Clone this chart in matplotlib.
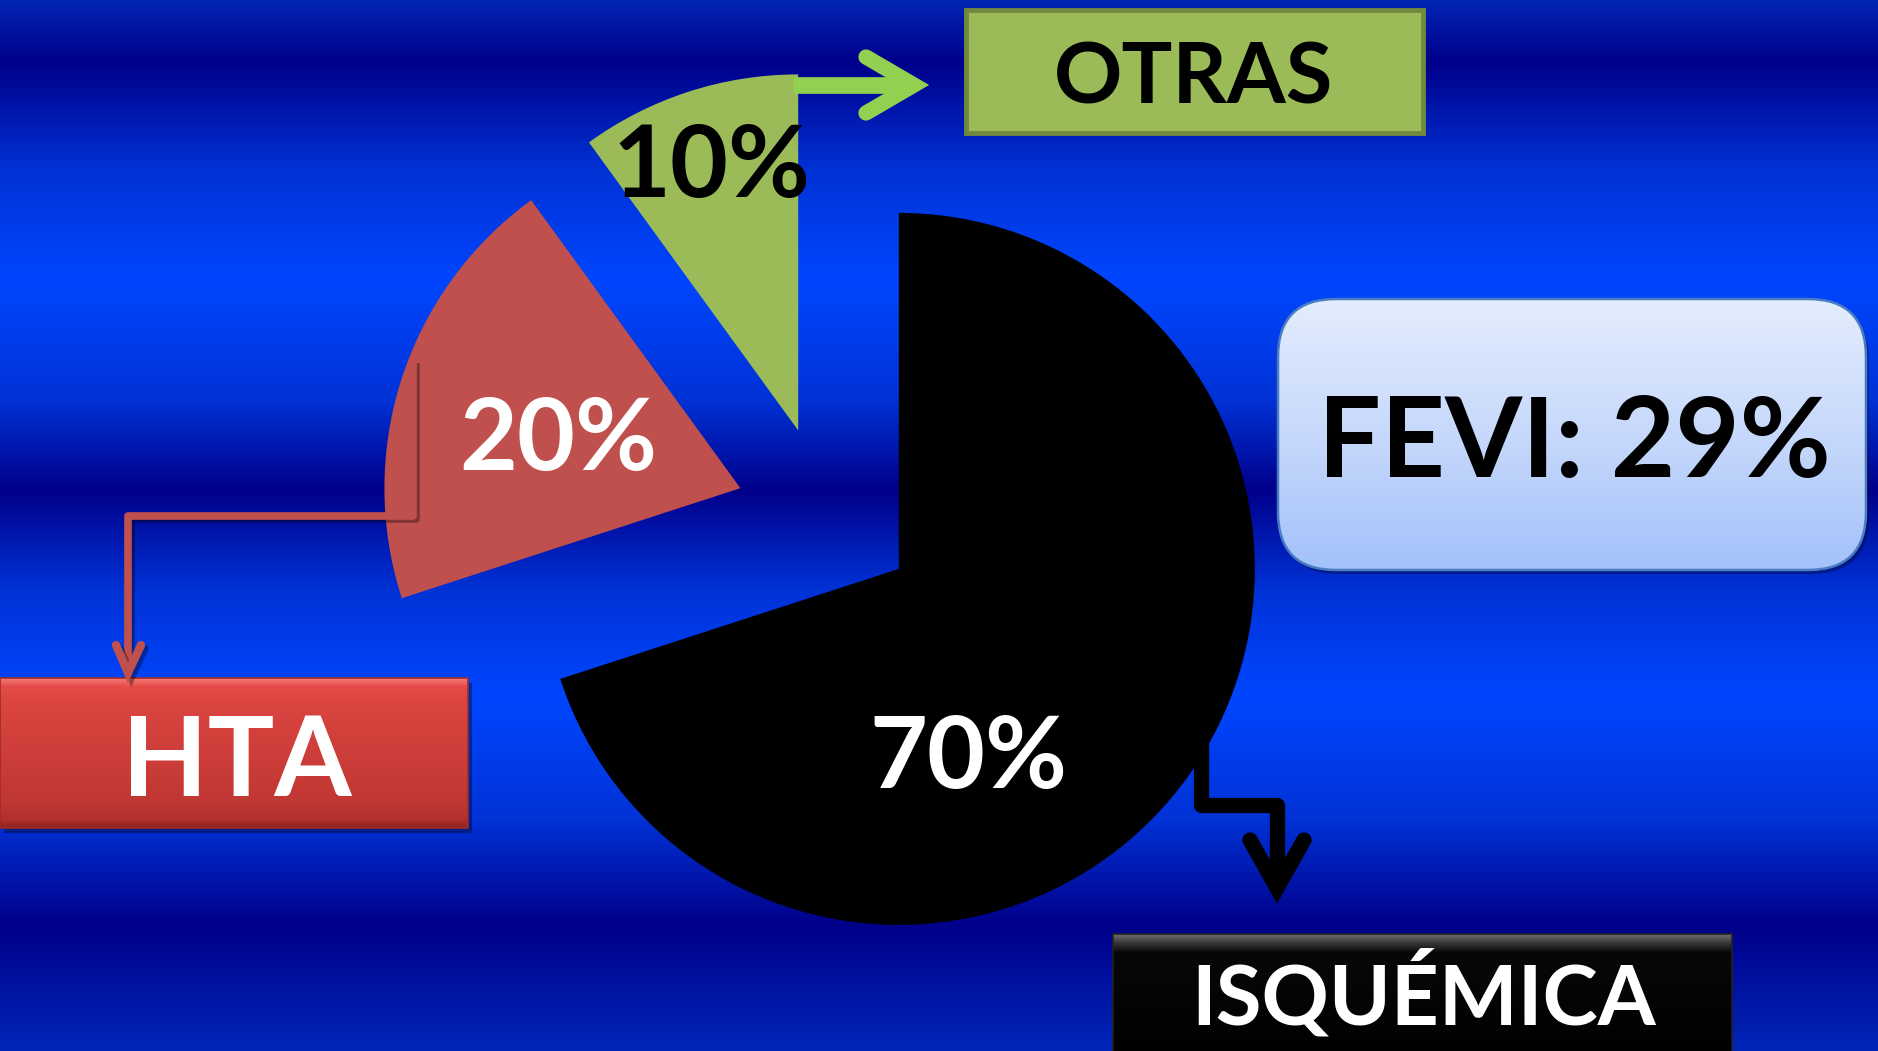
import numpy as np
import matplotlib
matplotlib.use("Agg")
import matplotlib.pyplot as plt
from matplotlib.patches import Rectangle, FancyBboxPatch
from matplotlib.colors import to_rgb
import matplotlib.patheffects as pe

# ---- data ----
categories = ["ISQUÉMICA", "HTA", "OTRAS"]
shares = [70, 20, 10]
slice_colors = ["#000000", "#C0504D", "#9BBB59"]
pct_colors = ["white", "white", "black"]
fevi_value = 29

W, H = 1878, 1051
FONT = ["Lato", "DejaVu Sans"]
WEIGHT = "bold"

fig = plt.figure(figsize=(W / 100, H / 100), dpi=100)
ax = fig.add_axes([0, 0, 1, 1])


def Y(y):
    """Convert a top-down pixel row into the axes' upward y coordinate."""
    return H - y


def gradient(clip, x0, x1, y0, y1, stops, z):
    """Vertical colour ramp (stops as (row, colour)) clipped to a patch."""
    rows = np.arange(int(y0), int(y1) + 1)
    ys = [s[0] for s in stops]
    cols = np.array([to_rgb(s[1]) for s in stops])
    img = np.stack([np.interp(rows, ys, cols[:, k]) for k in range(3)], axis=-1)[:, None, :]
    im = ax.imshow(img, extent=[x0, x1, Y(y1), Y(y0)], origin="upper",
                   aspect="auto", zorder=z, interpolation="bilinear")
    if clip is not None:
        im.set_clip_path(clip)
    return im


# ---- banded blue background ----
bg_stops = [(0, "#0026B4"), (62, "#00008A"), (170, "#0032D6"), (281, "#0046FF"),
            (400, "#0032D6"), (490, "#00008A"), (590, "#0032D6"), (697, "#0046FF"),
            (820, "#0032D6"), (925, "#00008A"), (1051, "#0026B8")]
gradient(None, 0, W, 0, H, bg_stops, 0)

# ---- exploded pie ----
wedges, _ = ax.pie(shares, colors=slice_colors, startangle=90, counterclock=False,
                   radius=356, center=(826, Y(516)), explode=[90] * len(shares),
                   wedgeprops=dict(linewidth=0))
for w in wedges:
    w.set_zorder(2)

pct_pos = [(968, 788), (558, 470), (711, 197)]
for v, c, (px, py) in zip(shares, pct_colors, pct_pos):
    ax.text(px, Y(py), f"{v}%", color=c, fontsize=72, fontweight=WEIGHT,
            family=FONT, ha="center", va="baseline", zorder=6)

# ---- connectors ----
shadow = [pe.SimpleLineShadow(offset=(2.5, -2.5), shadow_color="black", alpha=0.35),
          pe.Normal()]

# green: OTRAS
ax.plot([793, 910], [Y(85), Y(85)], color="#92D050", lw=12,
        solid_capstyle="butt", zorder=5)
ax.plot([866, 914, 866], [Y(57), Y(85), Y(113)], color="#92D050", lw=11,
        solid_capstyle="round", solid_joinstyle="miter", zorder=5)

# red: HTA
ax.plot([413, 413, 128, 128], [Y(360), Y(516), Y(516), Y(670)], color="#C0504D",
        lw=5.5, solid_joinstyle="round", solid_capstyle="butt", zorder=4,
        path_effects=shadow)
ax.plot([116, 128, 141], [Y(645), Y(673), Y(645)], color="#C0504D", lw=6,
        solid_capstyle="round", solid_joinstyle="miter", zorder=4, path_effects=shadow)

# black: ISQUÉMICA
ax.plot([1201, 1201, 1277, 1277], [Y(740), Y(805), Y(805), Y(880)], color="black",
        lw=11, solid_joinstyle="round", solid_capstyle="butt", zorder=4)
ax.plot([1250, 1277, 1304], [Y(840), Y(888), Y(840)], color="black", lw=11,
        solid_capstyle="round", solid_joinstyle="miter", zorder=4)

# ---- OTRAS box ----
ax.add_patch(Rectangle((966, Y(133)), 457, 123, facecolor="#9BBB59",
                       edgecolor="#71893F", lw=3.5, zorder=3))
ax.text(1194, Y(104), categories[2], color="black", fontsize=61, fontweight=WEIGHT,
        family=FONT, ha="center", va="baseline", zorder=6)

# ---- HTA box ----
ax.add_patch(Rectangle((4, Y(833)), 468, 150, facecolor="black", alpha=0.35,
                       lw=0, zorder=2.5))
hta = Rectangle((0, Y(828)), 468, 150, facecolor="none", edgecolor="#9E2B28",
                lw=1.2, zorder=3.2)
ax.add_patch(hta)
gradient(hta, 0, 468, 678, 828,
         [(678, "#F57A74"), (686, "#E44C48"), (700, "#DC4541"), (800, "#C13733"),
          (820, "#B2302D"), (828, "#8E2321")], 3)
ax.text(237, Y(796), categories[1], color="white", fontsize=80, fontweight=WEIGHT,
        family=FONT, ha="center", va="baseline", zorder=6)

# ---- ISQUÉMICA box ----
isq = Rectangle((1113, Y(1060)), 619, 126, facecolor="none", edgecolor="#222222",
                lw=1.2, zorder=3.2)
ax.add_patch(isq)
gradient(isq, 1113, 1732, 934, 1060,
         [(934, "#6E6E6E"), (942, "#3A3A3A"), (952, "#080808"), (1060, "#000000")], 3)
ax.text(1424, Y(1025), categories[0], color="white", fontsize=60, fontweight=WEIGHT,
        family=FONT, ha="center", va="baseline", zorder=6)

# ---- FEVI callout ----
ax.add_patch(FancyBboxPatch((1281, Y(574)), 588, 271,
                            boxstyle="round,pad=0,rounding_size=58",
                            facecolor="black", alpha=0.3, lw=0, zorder=2.5))
fevi = FancyBboxPatch((1278, Y(570)), 588, 271, boxstyle="round,pad=0,rounding_size=58",
                      facecolor="none", edgecolor="#4A7CC4", lw=1.8, zorder=3.2)
ax.add_patch(fevi)
gradient(fevi, 1278, 1866, 299, 570, [(299, "#E4EDFD"), (450, "#C3D6FB"), (570, "#A3C1FA")], 3)
ax.text(1574, Y(477), f"FEVI: {fevi_value}%", color="black", fontsize=80,
        fontweight=WEIGHT, family=FONT, ha="center", va="baseline", zorder=6)

ax.set_xlim(0, W)
ax.set_ylim(0, H)
ax.set_aspect("auto")
ax.axis("off")

fig.savefig("out.png", dpi=100)
